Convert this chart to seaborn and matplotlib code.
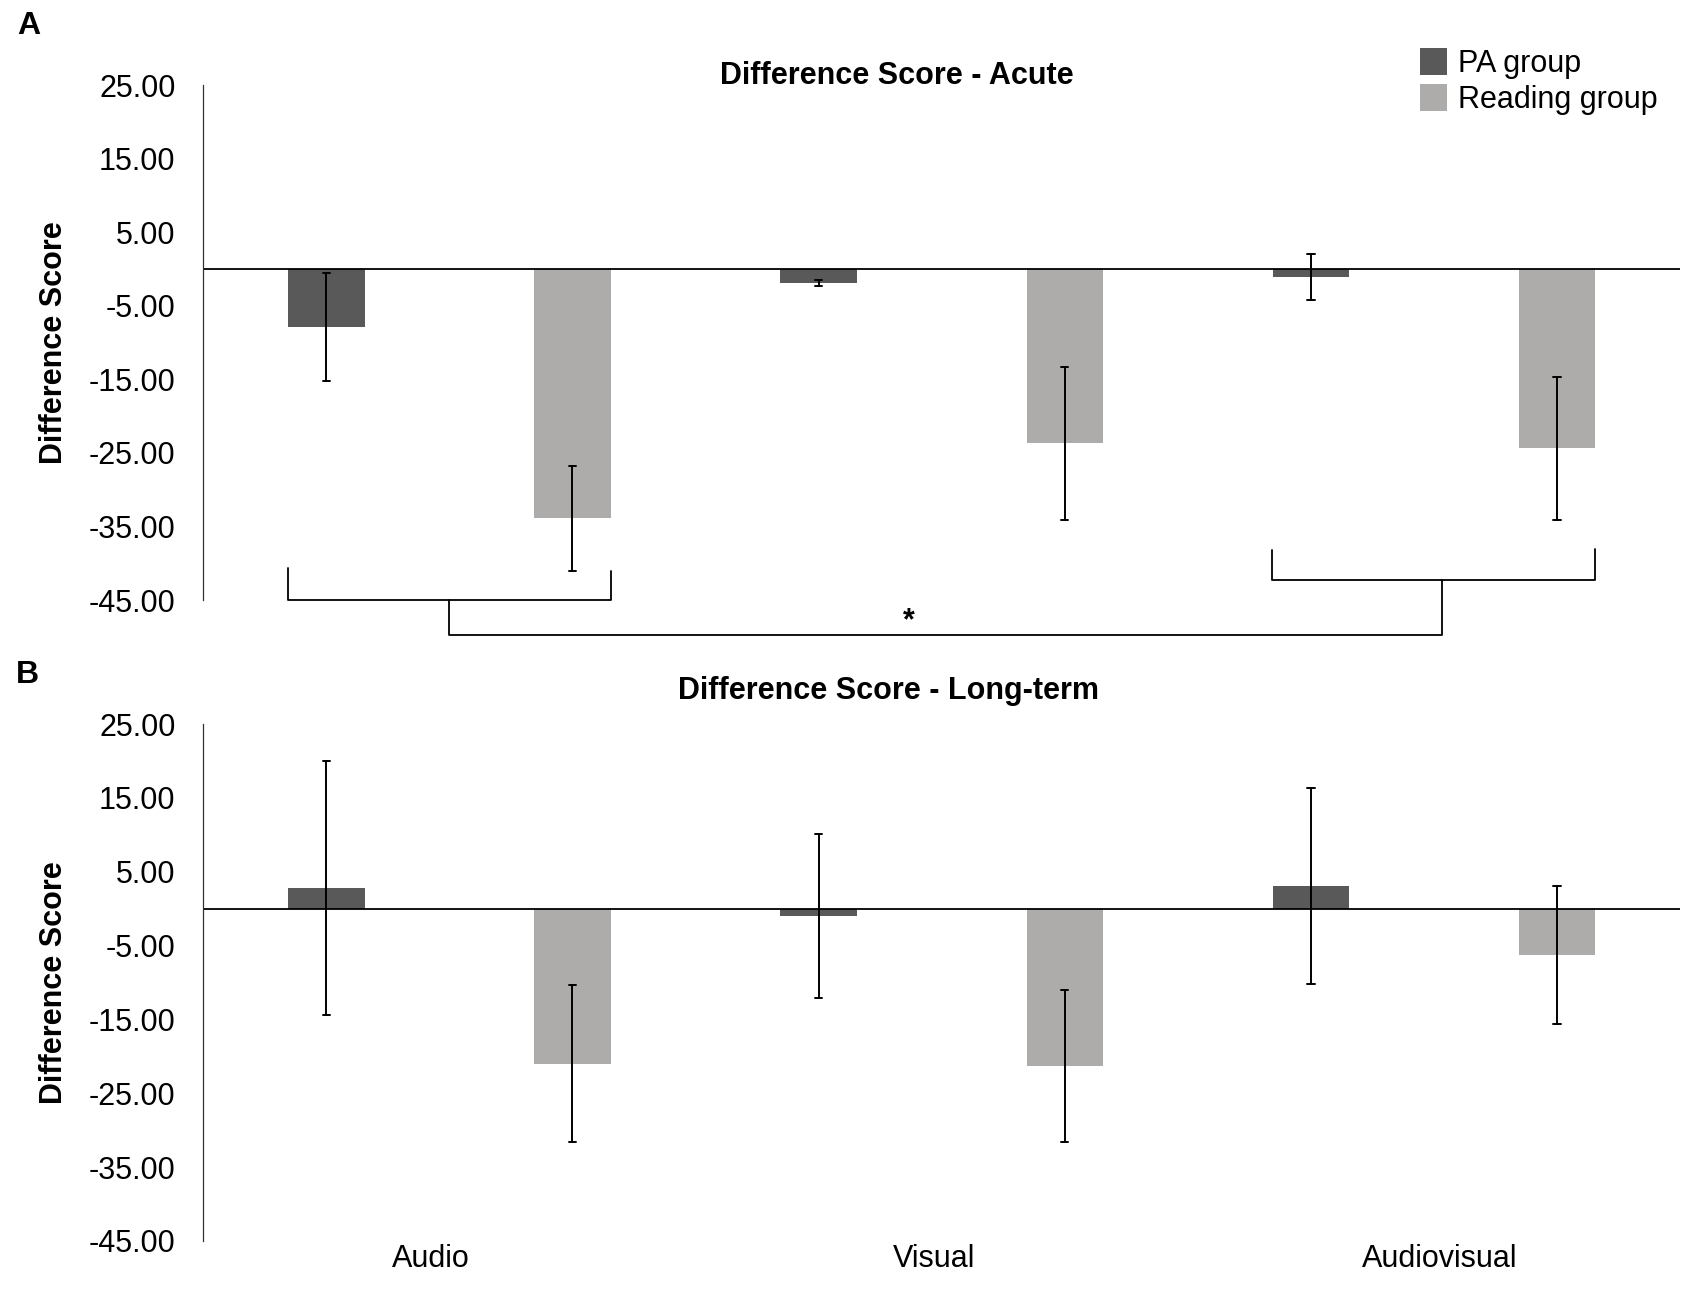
import numpy as np
import pandas as pd
import matplotlib
matplotlib.use("Agg")
import matplotlib.pyplot as plt
import seaborn as sns

# ---- data ----
categories = ["Audio", "Visual", "Audiovisual"]
groups = ["PA group", "Reading group"]

acute_pa_mean = [-7.9, -1.9, -1.1]
acute_pa_err = [7.4, 0.4, 3.1]
acute_read_mean = [-33.9, -23.7, -24.4]
acute_read_err = [7.1, 10.4, 9.7]

long_pa_mean = [2.8, -1.0, 3.1]
long_pa_err = [17.2, 11.1, 13.3]
long_read_mean = [-21.0, -21.3, -6.3]
long_read_err = [10.6, 10.3, 9.3]

yticks = [25, 15, 5, -5, -15, -25, -35, -45]
# category label placement offsets (as in the original layout)
label_offsets = [-0.037, -0.016, 0.012]
colors = ["#595959", "#AEABAB"]

W, H = 1689, 1297


def build_df(pa_mean, pa_err, rd_mean, rd_err):
    rows = []
    for g, means, errs in [(groups[0], pa_mean, pa_err), (groups[1], rd_mean, rd_err)]:
        for c, m, e in zip(categories, means, errs):
            rows.append({"cat": c, "group": g, "val": m - e})
            rows.append({"cat": c, "group": g, "val": m + e})
    return pd.DataFrame(rows)


sns.set_theme(style="white")
plt.rcParams["font.family"] = ["Liberation Sans", "DejaVu Sans"]
for k in ["text.color", "axes.labelcolor", "xtick.color", "ytick.color"]:
    plt.rcParams[k] = "black"

fig = plt.figure(figsize=(W / 100, H / 100), dpi=100)

left = 203.3 / W
width = (1680 - 203.3) / W
ax_top = fig.add_axes([left, 1 - 600 / H, width, (600 - 85) / H])
ax_bot = fig.add_axes([left, 1 - 1241 / H, width, (1241 - 724) / H])

datasets = [
    (ax_top, build_df(acute_pa_mean, acute_pa_err, acute_read_mean, acute_read_err)),
    (ax_bot, build_df(long_pa_mean, long_pa_err, long_read_mean, long_read_err)),
]

for ax, df in datasets:
    sns.barplot(
        data=df, x="cat", y="val", hue="group", order=categories,
        hue_order=groups, palette=colors, estimator="mean",
        errorbar=lambda v: (v.min(), v.max()),
        width=1.0, gap=0.69, capsize=0.03, saturation=1,
        err_kws={"color": "black", "linewidth": 1.4},
        linewidth=0, ax=ax,
    )
    ax.set_ylim(-45, 25)
    ax.set_xlim(-0.5, 2.5)
    ax.set_yticks(yticks)
    ax.set_yticklabels([f"{t:.2f}" for t in yticks], fontsize=22)
    ax.tick_params(axis="y", length=0, pad=20)
    ax.tick_params(axis="x", length=0, pad=2)
    ax.axhline(0, color="black", linewidth=1.3, zorder=1)
    for s in ["top", "right", "bottom"]:
        ax.spines[s].set_visible(False)
    ax.spines["left"].set_color("#333333")
    ax.spines["left"].set_linewidth(0.9)
    ax.set_xlabel("")
    ax.set_ylabel("")
    ax.patch.set_alpha(0)

handles, labels = ax_top.get_legend_handles_labels()
ax_top.get_legend().remove()
ax_bot.get_legend().remove()

ax_top.set_xticks([])
ax_bot.set_xticks([i + o for i, o in enumerate(label_offsets)])
ax_bot.set_xticklabels(categories, fontsize=22)

fig.legend(
    handles, labels, loc="upper left",
    bbox_to_anchor=(1420 / W, 1 - 48 / H), frameon=False,
    fontsize=22, handlelength=0.88, handleheight=0.96,
    handletextpad=0.38, labelspacing=0.18, borderpad=0, borderaxespad=0,
)

# titles, panel letters, y labels
fig.text(897 / W, 1 - 83.5 / H, "Difference Score - Acute", ha="center",
         va="baseline", fontsize=22, fontweight="bold")
fig.text(888 / W, 1 - 699 / H, "Difference Score - Long-term", ha="center",
         va="baseline", fontsize=22, fontweight="bold")
fig.text(17 / W, 1 - 34 / H, "A", ha="left", va="baseline", fontsize=23,
         fontweight="bold")
fig.text(16 / W, 1 - 683 / H, "B", ha="left", va="baseline", fontsize=23,
         fontweight="bold")
fig.text(54 / W, 1 - 342.5 / H, "Difference Score", rotation=90, ha="center",
         va="center", fontsize=22, fontweight="bold")
fig.text(54 / W, 1 - 982.5 / H, "Difference Score", rotation=90, ha="center",
         va="center", fontsize=22, fontweight="bold")

# significance brackets (annotation in top-axis data coordinates)
half_bar = 0.156 / 2
off = 0.25
kw = dict(color="black", linewidth=1.3, clip_on=False, transform=ax_top.transData)
# left bracket: Audio pair
xl0, xl1 = 0 - off - half_bar, 0 + off + half_bar
ax_top.plot([xl0, xl0, xl1, xl1], [-40.7, -45.0, -45.0, -41.0], **kw)
# right bracket: Audiovisual pair
xr0, xr1 = 2 - off - half_bar, 2 + off + half_bar
ax_top.plot([xr0, xr0, xr1, xr1], [-38.2, -42.3, -42.3, -38.1], **kw)
# connecting bracket
ax_top.plot([0.0, 0.0, 2.017, 2.017], [-45.0, -49.7, -49.7, -42.3], **kw)
ax_top.text(0.933, -47.9, "*", ha="center", va="center", fontsize=22,
            fontweight="bold", clip_on=False)

fig.savefig("out.png", dpi=100, facecolor="white")
